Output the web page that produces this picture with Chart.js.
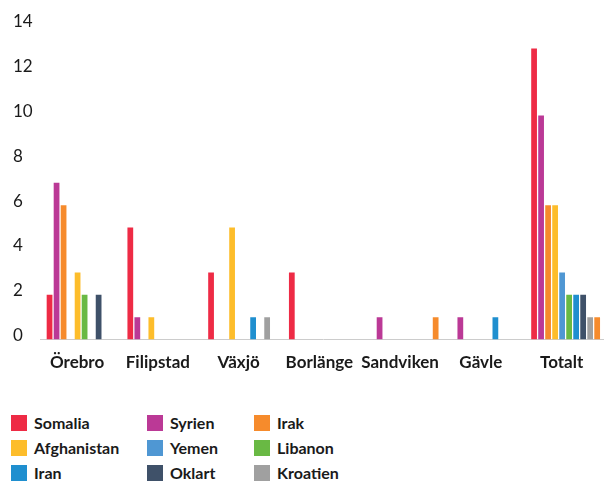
<!DOCTYPE html>
<html>
<head>
<meta charset="utf-8">
<script src="https://cdn.jsdelivr.net/npm/chart.js@4"></script>
<style>
  html, body { margin: 0; padding: 0; background: #fff; overflow: hidden; }
  #wrap { position: relative; width: 604px; height: 481px; overflow: hidden; }
  #c { position: absolute; left: 0; top: 0; }
  #legend {
    position: absolute; left: 11px; top: 410px;
    display: grid; grid-template-columns: 136px 107px auto; grid-auto-rows: 25px;
    font-family: Lato, sans-serif; font-weight: 700; font-size: 16px; color: #1a1a1a;
  }
  .item { display: flex; align-items: center; }
  .box { width: 16px; height: 16px; margin-right: 7px; flex: none; }
</style>
</head>
<body>
<div id="wrap">
  <canvas id="c" width="606" height="400"></canvas>
  <div id="legend"></div>
</div>
<script>
// ---- data ----
const categories = ['Örebro', 'Filipstad', 'Växjö', 'Borlänge', 'Sandviken', 'Gävle', 'Totalt'];
const countries = ['Somalia', 'Syrien', 'Irak', 'Afghanistan', 'Yemen', 'Libanon', 'Iran', 'Oklart', 'Kroatien'];
const somalia     = [2, 5, 3, 3, 0, 0, 13];
const syrien      = [7, 1, 0, 0, 1, 1, 10];
const irak        = [6, 0, 0, 0, 0, 0, 6];
const afghanistan = [0, 1, 5, 0, 0, 0, 6];
const yemen       = [3, 0, 0, 0, 0, 0, 3];
const libanon     = [2, 0, 0, 0, 0, 0, 2];
const iran        = [0, 0, 1, 0, 0, 1, 2];
const oklart      = [2, 0, 0, 0, 0, 0, 2];
const kroatien    = [0, 0, 1, 0, 0, 0, 1];
const ovrigt      = [0, 0, 0, 0, 1, 0, 1];   // unlabelled 10th series (orange)
const yTicks = [0, 2, 4, 6, 8, 10, 12, 14];

// ---- styles ----
const colors = {
  Somalia: '#ee2b45', Syrien: '#bb3996', Irak: '#f68b2c', Afghanistan: '#fdbd2b',
  Yemen: '#4f97d3', Libanon: '#69b944', Iran: '#1f8fcf', Oklart: '#3f5169', Kroatien: '#a0a0a0'
};
const series = [
  ['Somalia', somalia], ['Syrien', syrien], ['Irak', irak], ['Afghanistan', afghanistan],
  ['Yemen', yemen], ['Libanon', libanon], ['Iran', iran], ['Oklart', oklart],
  ['Kroatien', kroatien], ['Övrigt', ovrigt]
];
function barColors(name) {
  const base = colors[name] || colors.Irak;
  return categories.map((c, i) => (name === 'Yemen' && i === 0) ? colors.Afghanistan : base);
}

const datasets = series.map(([name, vals]) => ({
  label: name,
  data: vals.map(v => v === 0 ? null : v),
  backgroundColor: barColors(name),
  borderWidth: 0,
  categoryPercentage: 0.868,
  barPercentage: 0.82
}));

new Chart(document.getElementById('c'), {
  type: 'bar',
  data: { labels: categories, datasets },
  options: {
    responsive: false,
    animation: false,
    layout: { padding: { left: 13, right: 0, top: 26, bottom: 14 } },
    plugins: { legend: { display: false }, tooltip: { enabled: false } },
    scales: {
      x: {
        grid: { display: false, drawTicks: false },
        border: { display: true, color: '#cccccc', width: 1 },
        ticks: {
          color: '#1a1a1a', padding: 13, maxRotation: 0, autoSkip: false, labelOffset: -4,
          font: { family: 'Lato', weight: 'bold', size: 17 }
        }
      },
      y: {
        min: 0, max: 14,
        afterBuildTicks: s => { s.ticks = yTicks.map(v => ({ value: v })); },
        grid: { display: false, drawTicks: false },
        border: { display: false },
        ticks: {
          color: '#1a1a1a', padding: 4, crossAlign: 'far', labelOffset: -4,
          font: { family: 'Lato', size: 17 }
        }
      }
    }
  }
});

// HTML legend (3 columns)
const legend = document.getElementById('legend');
countries.forEach(name => {
  const it = document.createElement('div');
  it.className = 'item';
  const b = document.createElement('span');
  b.className = 'box';
  b.style.background = colors[name];
  const t = document.createElement('span');
  t.textContent = name;
  it.appendChild(b); it.appendChild(t);
  legend.appendChild(it);
});
</script>
</body>
</html>
